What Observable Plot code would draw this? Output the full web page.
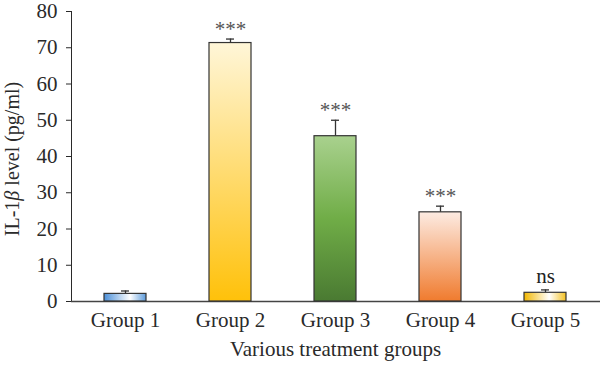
<!DOCTYPE html>
<html>
<head>
<meta charset="utf-8">
<script src="https://cdn.jsdelivr.net/npm/d3@7"></script>
<script src="https://cdn.jsdelivr.net/npm/@observablehq/plot@0.6"></script>
<style>
  html, body { margin: 0; padding: 0; background: #fff; }
</style>
</head>
<body>
<div id="chart"></div>
<script>
const groups = ["Group 1", "Group 2", "Group 3", "Group 4", "Group 5"];
const values = [2.1, 71.3, 45.6, 24.6, 2.4];
const errors = [0.8, 1.1, 4.4, 1.7, 0.8];
const signif = ["", "***", "***", "***", "ns"];
const yTicks = [0, 10, 20, 30, 40, 50, 60, 70, 80];

const data = groups.map((g, i) => ({group: g, value: values[i], err: errors[i], sig: signif[i], idx: i}));

const gradients = [
  {id: "grad0", dir: "h", stops: [[0, "#4b8fd8"], [0.62, "#ffffff"], [1, "#5d9bdb"]]},
  {id: "grad1", dir: "v", stops: [[0, "#fff6d8"], [1, "#ffc10a"]]},
  {id: "grad2", dir: "v", stops: [[0, "#a9d18e"], [0.5, "#70ad47"], [1, "#4a7a32"]]},
  {id: "grad3", dir: "v", stops: [[0, "#fdebe2"], [1, "#f07b2e"]]},
  {id: "grad4", dir: "h", stops: [[0, "#f2b700"], [0.6, "#ffffff"], [1, "#f4c122"]]}
];

const svg = Plot.plot({
  width: 600,
  height: 365,
  marginLeft: 71,
  marginRight: 0,
  marginTop: 11,
  marginBottom: 64,
  style: {fontFamily: "'Liberation Serif', serif", fontSize: "21px", color: "#2a2a2a", background: "#fff", overflow: "visible"},
  x: {domain: groups, paddingInner: 0.6, paddingOuter: 0.31, label: null, tickSize: 0, tickPadding: 11},
  y: {domain: [0, 80], ticks: yTicks, tickSize: 5, tickPadding: 9, label: null, line: true},
  color: {type: "identity"},
  marks: [
    Plot.ruleY([0], {stroke: "#444", strokeWidth: 1.3}),
    Plot.ruleX(data, {x: "group", y1: "value", y2: d => d.value + d.err, stroke: "#333", strokeWidth: 1.3}),
    Plot.tickY(data, {x: "group", y: d => d.value + d.err, stroke: "#333", strokeWidth: 1.3, insetLeft: 17, insetRight: 17}),
    Plot.barY(data, {x: "group", y: "value", fill: d => `url(#grad${d.idx})`, stroke: "#333", strokeWidth: 1.2}),
    Plot.text(data.filter(d => d.sig === "***"), {x: "group", y: d => d.value + d.err, text: "sig", lineAnchor: "bottom", dy: -3, fill: "#555", fontSize: 21}),
    Plot.text(data.filter(d => d.sig === "ns"), {x: "group", y: d => d.value + d.err, text: "sig", lineAnchor: "bottom", dy: -7, fill: "#222", fontSize: 21})
  ]
});

const s = d3.select(svg);
const defs = s.insert("defs", ":first-child");
for (const g of gradients) {
  const lg = defs.append("linearGradient").attr("id", g.id)
    .attr("x1", 0).attr("y1", 0)
    .attr("x2", g.dir === "h" ? 1 : 0).attr("y2", g.dir === "h" ? 0 : 1);
  for (const [o, c] of g.stops) lg.append("stop").attr("offset", o).attr("stop-color", c);
}

// Axis titles
s.append("text")
  .attr("x", 335.5).attr("y", 356)
  .attr("text-anchor", "middle")
  .attr("font-size", 21).attr("fill", "#2a2a2a")
  .text("Various treatment groups");

const yl = s.append("text")
  .attr("transform", "translate(19,159) rotate(-90)")
  .attr("text-anchor", "middle")
  .attr("font-size", 20).attr("fill", "#2a2a2a");
yl.append("tspan").text("IL-1");
yl.append("tspan").attr("font-style", "italic").text("β");
yl.append("tspan").text(" level (pg/ml)");

document.getElementById("chart").appendChild(svg);
</script>
</body>
</html>
